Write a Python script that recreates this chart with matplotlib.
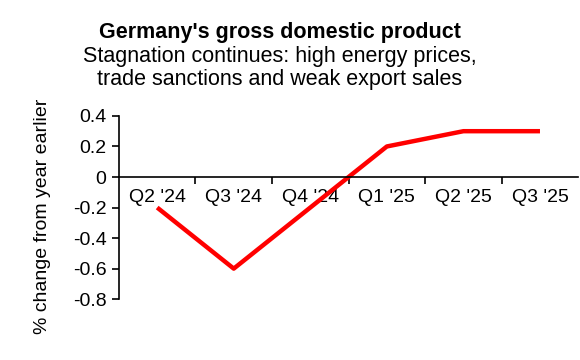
#!/usr/bin/env python3
"""Germany GDP, year-on-year change by quarter."""
import matplotlib

matplotlib.use("Agg")
import matplotlib.pyplot as plt
import numpy as np

quarters = ["Q2 '24", "Q3 '24", "Q4 '24", "Q1 '25", "Q2 '25", "Q3 '25"]
gdp_change = [-0.2, -0.6, -0.2, 0.2, 0.3, 0.3]
y_ticks = [0.4, 0.2, 0, -0.2, -0.4, -0.6, -0.8]
y_tick_labels = ["0.4", "0.2", "0", "-0.2", "-0.4", "-0.6", "-0.8"]

plt.rcParams["font.family"] = ["Liberation Sans", "DejaVu Sans"]

fig = plt.figure(figsize=(5.8, 3.6), dpi=100)
ax = fig.add_axes([0.205, 0.169, 0.792, 0.509])

x = np.arange(len(quarters))
ax.plot(x, gdp_change, color="#ff0000", lw=3.2, solid_capstyle="butt")

ax.set_xlim(-0.5, len(quarters) - 0.5)
ax.set_ylim(-0.8, 0.4)

ax.spines["top"].set_visible(False)
ax.spines["right"].set_visible(False)
ax.spines["bottom"].set_position(("data", 0))
for s in ("left", "bottom"):
    ax.spines[s].set_linewidth(1.2)

ax.set_yticks(y_ticks)
ax.set_yticklabels(y_tick_labels)
ax.tick_params(axis="y", length=5, width=1.2, labelsize=14, pad=4)

ax.set_xticks(x)
ax.set_xticklabels(quarters)
ax.set_xticks(x[:-1] + 0.5, minor=True)
ax.tick_params(axis="x", which="major", length=0, labelsize=14, pad=9)
ax.tick_params(axis="x", which="minor", length=5, width=1.2, direction="out")

ax.set_ylabel("% change from year earlier", fontsize=14)
ax.yaxis.set_label_coords(-0.147, 0.454)

fig.text(0.482, 0.91, "Germany's gross domestic product", ha="center", va="center",
         fontsize=15.5, fontweight="bold")
fig.text(0.482, 0.81, "Stagnation continues: high energy prices,\ntrade sanctions and weak export sales",
         ha="center", va="center", fontsize=15.5, linespacing=1.12)

fig.savefig("out.png", dpi=100)
